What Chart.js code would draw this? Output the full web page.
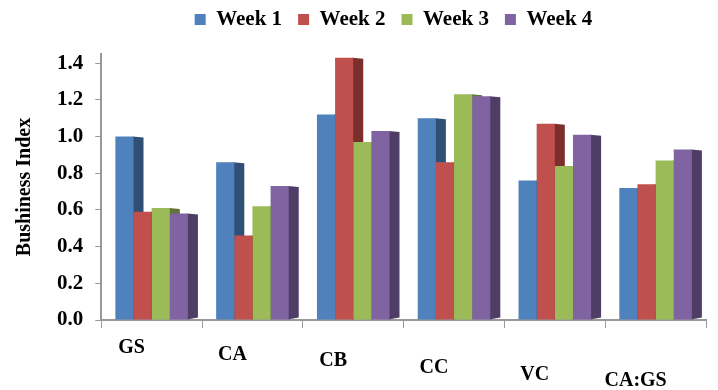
<!DOCTYPE html>
<html>
<head>
<meta charset="utf-8">
<script src="https://cdn.jsdelivr.net/npm/chart.js@4/dist/chart.umd.min.js"></script>
<style>
  body { margin: 0; background: #fff; }
  #wrap { width: 718px; height: 390px; }
</style>
</head>
<body>
<div id="wrap"><canvas id="myChart"></canvas></div>
<script>
const categories = ['GS', 'CA', 'CB', 'CC', 'VC', 'CA:GS'];
const week1 = [1.00, 0.86, 1.12, 1.10, 0.76, 0.72];
const week2 = [0.59, 0.46, 1.43, 0.86, 1.07, 0.74];
const week3 = [0.61, 0.62, 0.97, 1.23, 0.84, 0.87];
const week4 = [0.58, 0.73, 1.03, 1.22, 1.01, 0.93];
const yTicks = [0, 0.2, 0.4, 0.6, 0.8, 1.0, 1.2, 1.4];

const fronts = ['#4F81BD', '#C0504D', '#9BBB59', '#8064A2'];
const sides = ['#2F4F75', '#7B2E2C', '#5F7535', '#4F3D66'];

// dark right face of every bar, painted before the bars so the
// neighbouring bar hides the lower part of it
const sideFaces = {
  id: 'sideFaces',
  beforeDatasetsDraw(chart) {
    const ctx = chart.ctx;
    ctx.save();
    chart.data.datasets.forEach((ds, i) => {
      const meta = chart.getDatasetMeta(i);
      ctx.fillStyle = sides[i];
      meta.data.forEach(bar => {
        const right = bar.x + bar.width / 2;
        const d = 10;
        ctx.beginPath();
        ctx.moveTo(right - 1, bar.y);
        ctx.lineTo(right + d, bar.y + 1);
        ctx.lineTo(right + d, bar.base - 2);
        ctx.lineTo(right - 1, bar.base);
        ctx.closePath();
        ctx.fill();
      });
    });
    ctx.restore();
  }
};

// more room under the legend, and nudge it a little to the right
const legendGap = {
  id: 'legendGap',
  beforeInit(chart) {
    const fit = chart.legend.fit;
    chart.legend.fit = function () {
      fit.call(this);
      this.height += 14;
    };
  },
  afterLayout(chart) {
    chart.legend.left += 34;
    chart.legend.right += 34;
  }
};

const serif = "'Liberation Serif', 'DejaVu Serif', serif";

const ctx = document.getElementById('myChart').getContext('2d');
const myChart = new Chart(ctx, {
  type: 'bar',
  data: {
    labels: categories,
    datasets: [
      { label: 'Week 1', data: week1, backgroundColor: fronts[0] },
      { label: 'Week 2', data: week2, backgroundColor: fronts[1] },
      { label: 'Week 3', data: week3, backgroundColor: fronts[2] },
      { label: 'Week 4', data: week4, backgroundColor: fronts[3] },
    ],
  },
  options: {
    responsive: true,
    maintainAspectRatio: false,
    animation: false,
    layout: { padding: { left: 13, right: 12, top: -7, bottom: -44 } },
    datasets: {
      bar: { barPercentage: 1, categoryPercentage: 0.72 }
    },
    plugins: {
      legend: {
        position: 'top',
        labels: {
          boxWidth: 11,
          boxHeight: 11,
          padding: 16,
          color: '#000',
          font: { family: serif, size: 21, weight: 'bold' },
        },
      },
      tooltip: { enabled: false },
    },
    scales: {
      x: {
        grid: { drawOnChartArea: false, color: '#999', tickLength: 8 },
        border: { color: '#999', width: 2 },
        ticks: {
          color: '#000',
          padding: 8,
          labelOffset: -20,
          // taller line box further right -> labels step down like the tilted floor
          font: c => ({ family: serif, size: 20, weight: 'bold', lineHeight: 1.2 + c.index * 0.66 }),
        },
      },
      y: {
        min: 0,
        max: 1.45,
        afterBuildTicks: scale => {
          scale.ticks = yTicks.map(v => ({ value: v }));
        },
        grid: { drawOnChartArea: false, color: '#999', tickLength: 6 },
        border: { color: '#999', width: 2 },
        title: {
          display: true,
          text: 'Bushiness Index',
          color: '#000',
          padding: { top: 0, bottom: 8 },
          font: { family: serif, size: 20, weight: 'bold' },
        },
        ticks: {
          color: '#000',
          padding: 12,
          callback: v => Number(v).toFixed(1),
          font: { family: serif, size: 21, weight: 'bold' },
        },
      },
    },
  },
  plugins: [sideFaces, legendGap],
});
</script>
</body>
</html>
